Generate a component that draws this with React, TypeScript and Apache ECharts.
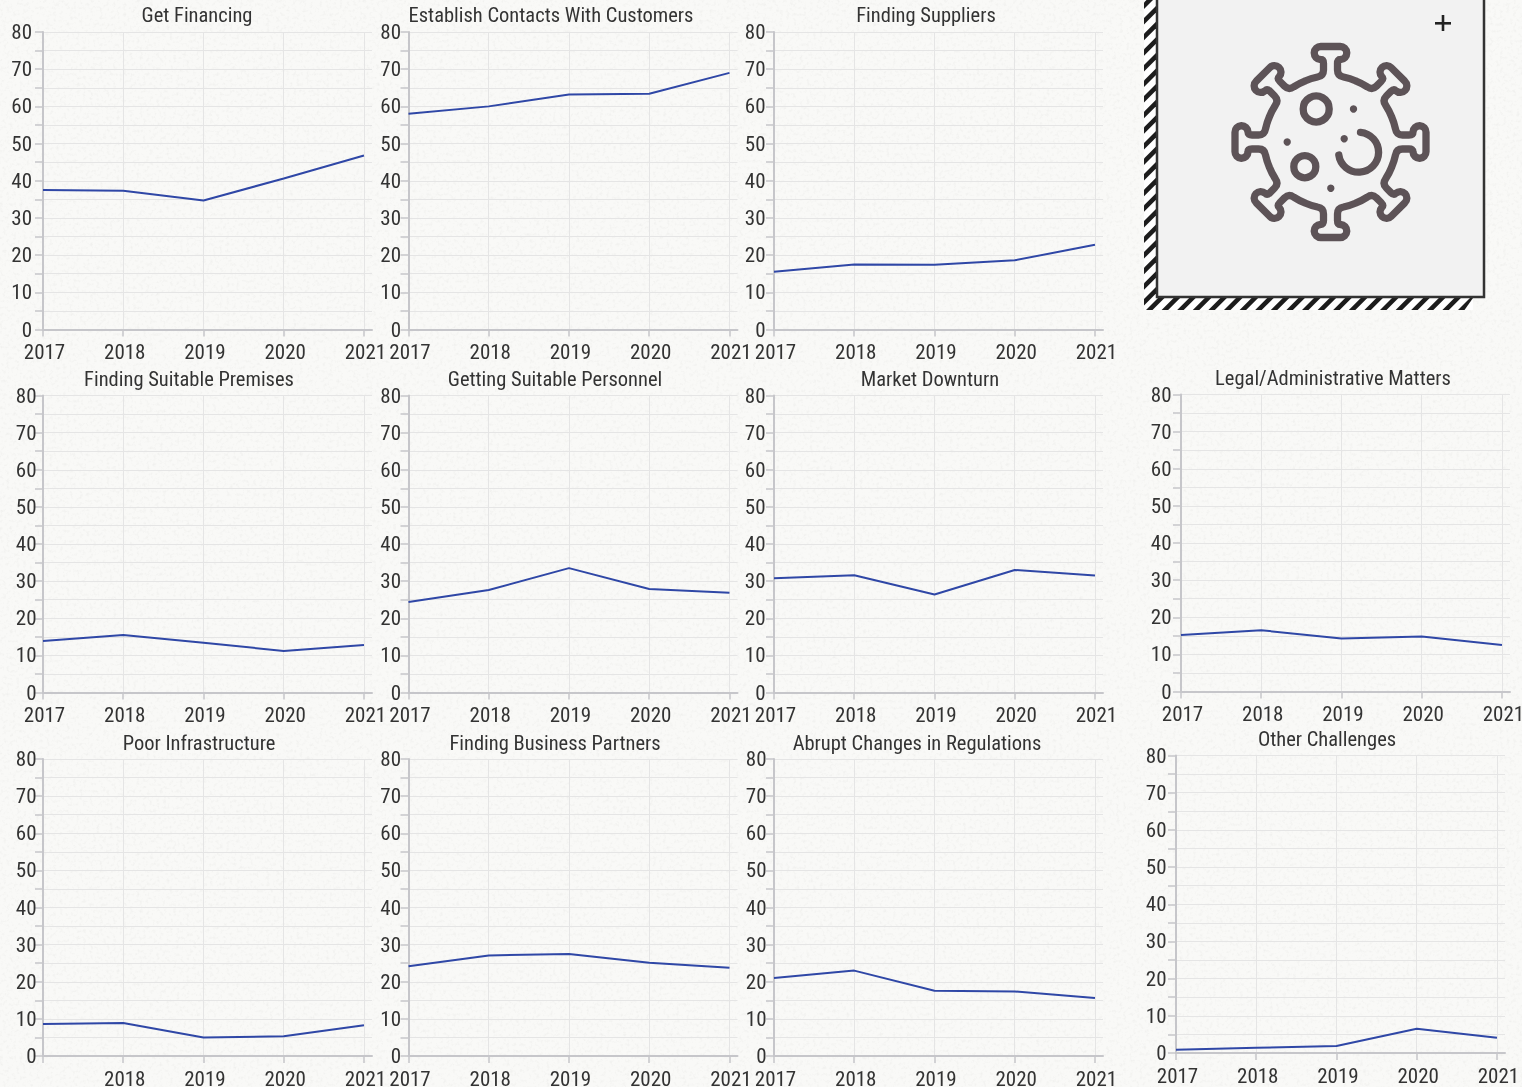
import React, { useEffect, useRef } from "react";
import * as echarts from "echarts";

const years = [2017, 2018, 2019, 2020, 2021];
const yTicks = [0, 10, 20, 30, 40, 50, 60, 70, 80];
const titles = ["Get Financing", "Establish Contacts With Customers", "Finding Suppliers", "Finding Suitable Premises", "Getting Suitable Personnel", "Market Downturn", "Legal/Administrative Matters", "Poor Infrastructure", "Finding Business Partners", "Abrupt Changes in Regulations", "Other Challenges"];
const getFinancing = [37.5, 37.3, 34.7, 40.6, 46.8];
const establishContacts = [58, 60, 63.2, 63.4, 69];
const findingSuppliers = [15.5, 17.5, 17.4, 18.6, 22.8];
const findingPremises = [13.9, 15.5, 13.4, 11.2, 12.8];
const gettingPersonnel = [24.4, 27.6, 33.5, 27.9, 26.9];
const marketDownturn = [30.8, 31.6, 26.4, 33, 31.5];
const legalMatters = [15.2, 16.5, 14.3, 14.8, 12.5];
const poorInfrastructure = [8.6, 8.9, 5, 5.3, 8.3];
const businessPartners = [24.2, 27.1, 27.5, 25.1, 23.8];
const abruptChanges = [21, 23, 17.6, 17.4, 15.6];
const otherChallenges = [0.9, 1.4, 1.9, 6.5, 4.1];
const seriesValues = [getFinancing, establishContacts, findingSuppliers, findingPremises, gettingPersonnel, marketDownturn, legalMatters, poorInfrastructure, businessPartners, abruptChanges, otherChallenges];

// left x, top y, bottom y, title centre x, title centre y, y label margin
const layouts = [
  [43, 32, 329.5, 197, 15, 11],
  [408.5, 32, 329.5, 551, 15, 7.5],
  [774, 32, 329.5, 926, 15, 8.5],
  [43, 395.5, 692.5, 189, 379, 6.5],
  [408.5, 395.5, 692.5, 555, 379, 7.5],
  [774, 395.5, 692.5, 930, 379, 8.5],
  [1181, 394.5, 691.5, 1333, 378, 9.5],
  [43, 759, 1056, 199, 743, 6.5],
  [408.5, 759, 1056, 555, 743, 7.5],
  [774, 759, 1056, 917, 743, 7.5],
  [1176, 755.5, 1053, 1327, 739, 9.5],
];

const FONT = 'Roboto, sans-serif';
const INK = "#333333";
const AXIS = "#c6c6ca";
const GRID = "#e5e5e5";
const ICON = "#5d5357";

function spikePath(): string {
  let d = "";
  for (let k = 0; k < 8; k++) {
    const a = (k * Math.PI) / 4;
    const p = (x: number, y: number) => {
      const X = x * Math.cos(a) - y * Math.sin(a);
      const Y = x * Math.sin(a) + y * Math.cos(a);
      return `${X.toFixed(2)} ${Y.toFixed(2)}`;
    };
    d += (k === 0 ? "M" : "L") + p(-25.5, -61);
    d += `A66 66 0 0 1 ${p(-13, -65)}`;
    d += `Q${p(-7, -66)} ${p(-7, -72)}`;
    d += `L${p(-7, -78.5)}Q${p(-7, -82.5)} ${p(-10, -82.5)}`;
    d += `A6.5 6.5 0 0 1 ${p(-9.5, -95.5)}`;
    d += `L${p(9.5, -95.5)}A6.5 6.5 0 0 1 ${p(10, -82.5)}`;
    d += `Q${p(7, -82.5)} ${p(7, -78.5)}L${p(7, -72)}`;
    d += `Q${p(7, -66)} ${p(13, -65)}`;
    d += `A66 66 0 0 1 ${p(25.5, -61)}`;
  }
  return d + "Z";
}

echarts.graphic.registerShape("virusOutline", echarts.graphic.extendPath(spikePath(), {}));
echarts.graphic.registerShape("virusArc", echarts.graphic.extendPath("M30 -9.7A20 20 0 1 1 8.3 13", {}));

function hatch(): any[] {
  const out: any[] = [];
  const fill = "#1c1c1c";
  for (let k = 0; k < 20; k++) {
    const y = 9 + 15.6 * k;
    if (y - 12 > 298) break;
    out.push({ type: "polygon", z: 2, shape: { points: [[1144, y], [1144, y - 6.5], [1156, y - 18.5], [1156, y - 12]] }, style: { fill } });
  }
  for (let k = 0; k < 22; k++) {
    const x = 1146 + 15.6 * k;
    if (x >= 1473) break;
    out.push({
      type: "polygon",
      z: 2,
      shape: { points: [[x, 310], [Math.min(x + 12, 1473), 298], [Math.min(x + 18.5, 1473), 298], [Math.min(x + 6.5, 1473), 310]] },
      style: { fill },
    });
  }
  return out;
}

const noise = `url("data:image/svg+xml,${encodeURIComponent(
  `<svg xmlns='http://www.w3.org/2000/svg' width='1522' height='1087'><filter id='n'><feTurbulence type='fractalNoise' baseFrequency='0.3' numOctaves='3' seed='7'/><feColorMatrix values='0 0 0 0 0.6 0 0 0 0 0.6 0 0 0 0 0.58 0 0 0 2 -1'/></filter><rect width='1522' height='1087' fill='#f9f9f7'/><rect width='1522' height='1087' filter='url(#n)' opacity='0.22'/></svg>`
)}")`;

export default function App() {
  const ref = useRef<HTMLDivElement>(null);
  useEffect(() => {
    document.body.style.margin = "0";
    document.documentElement.style.overflow = "hidden";
    const chart = echarts.init(ref.current!, undefined, { renderer: "svg" });
    const W = 329;
    const grids = layouts.map(([l, t, b]) => ({ left: l, top: t, width: W, height: b - t, containLabel: false, outerBoundsMode: "none" }));
    const xAxes = layouts.map((_, i) => ({
      type: "value",
      gridIndex: i,
      min: 2017,
      max: 2021.1,
      axisLine: { show: true, lineStyle: { color: AXIS, width: 2 } },
      axisTick: { show: true, length: 7, customValues: years, lineStyle: { color: AXIS, width: 1.5 } },
      splitLine: { show: true, lineStyle: { color: GRID, width: 1 } },
      axisLabel: {
        customValues: i === 7 ? years.slice(1) : years,
        formatter: (v: number) => String(v),
        fontFamily: FONT,
        fontSize: 21,
        color: INK,
        margin: 12,
        padding: [0, 0, 0, 3],
      },
    }));
    const yAxes = layouts.map((la, i) => ({
      type: "value",
      gridIndex: i,
      min: 0,
      max: 80,
      interval: 5,
      axisLine: { show: true, lineStyle: { color: AXIS, width: 2 } },
      axisTick: { show: true, length: 8, lineStyle: { color: AXIS, width: 1.5 } },
      splitLine: { show: true, lineStyle: { color: GRID, width: 1 } },
      axisLabel: {
        customValues: yTicks,
        formatter: (v: number) => String(v),
        fontFamily: FONT,
        fontSize: 21,
        color: INK,
        margin: la[5],
        padding: i === 10 ? [0, 0, 5, 0] : 0,
      },
    }));
    const series = seriesValues.map((vals, i) => ({
      type: "line",
      xAxisIndex: i,
      yAxisIndex: i,
      data: vals.map((v, j) => [years[j], v]),
      symbol: "none",
      lineStyle: { color: "#2f47a6", width: 2 },
    }));
    const title = layouts.map((la, i) => ({
      text: titles[i],
      left: la[3],
      top: la[4] - 12,
      textAlign: "center",
      padding: 0,
      textStyle: { fontFamily: FONT, fontSize: 20.5, fontWeight: "normal", color: INK, lineHeight: 24 },
    }));
    const iconStroke = { fill: "none", stroke: ICON, lineWidth: 7.3, lineCap: "round", lineJoin: "round" };
    const iconParts = [
      { type: "virusOutline", style: iconStroke },
      { type: "virusArc", style: iconStroke },
      { type: "circle", shape: { cx: -14.3, cy: -33, r: 13 }, style: iconStroke },
      { type: "circle", shape: { cx: -25.7, cy: 24.7, r: 11 }, style: iconStroke },
      { type: "circle", shape: { cx: 23, cy: -33, r: 3.7 }, style: { fill: ICON } },
      { type: "circle", shape: { cx: 13.7, cy: -3.3, r: 3.7 }, style: { fill: ICON } },
      { type: "circle", shape: { cx: -43.3, cy: 0, r: 3.7 }, style: { fill: ICON } },
      { type: "circle", shape: { cx: 0.3, cy: 46.3, r: 3.7 }, style: { fill: ICON } },
    ].map((e) => ({ ...e, z: 4 }));
    const graphic = [
      { type: "rect", shape: { x: 1144, y: -4, width: 13, height: 314 }, style: { fill: "#ffffff" }, z: 1 },
      { type: "rect", shape: { x: 1144, y: 298, width: 329, height: 12 }, style: { fill: "#ffffff" }, z: 1 },
      ...hatch(),
      { type: "rect", z: 3, shape: { x: 1157, y: -6, width: 327, height: 303 }, style: { fill: "#f2f2f2", stroke: "#333333", lineWidth: 2.5 } },
      { type: "group", x: 1330.5, y: 142, children: iconParts },
      { type: "rect", z: 4, shape: { x: 1435, y: 22, width: 16, height: 2.6 }, style: { fill: "#222222" } },
      { type: "rect", z: 4, shape: { x: 1441.7, y: 15, width: 2.6, height: 16 }, style: { fill: "#222222" } },
    ];
    chart.setOption({ animation: false, backgroundColor: "transparent", title, grid: grids, xAxis: xAxes, yAxis: yAxes, series, graphic });
    return () => chart.dispose();
  }, []);
  return (
    <div style={{ position: "fixed", left: 0, top: 0, width: 1522, height: 1087, backgroundImage: noise }}>
      <style>{`svg text { font-stretch: 75% !important; }`}</style>
      <div ref={ref} style={{ width: 1522, height: 1087 }} />
    </div>
  );
}
